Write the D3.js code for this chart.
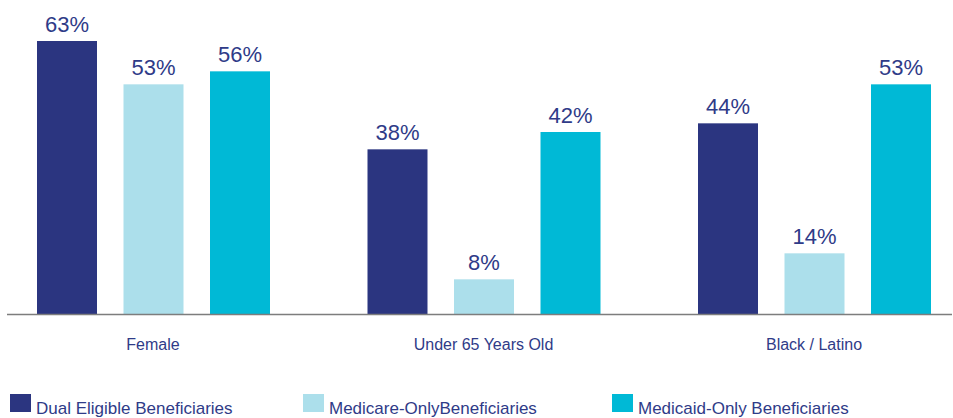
<!DOCTYPE html>
<html>
<head>
<meta charset="utf-8">
<script src="https://cdn.jsdelivr.net/npm/d3@7"></script>
<style>
  html, body { margin: 0; padding: 0; background: #fff; }
  svg { display: block; font-family: "Liberation Sans", Arial, Helvetica, sans-serif; }
</style>
</head>
<body>
<svg id="chart" width="953" height="418"></svg>
<script>
// ---- data ----
const categories = ["Female", "Under 65 Years Old", "Black / Latino"];
const seriesNames = ["Dual Eligible Beneficiaries", "Medicare-OnlyBeneficiaries", "Medicaid-Only Beneficiaries"];
const dualValues = [63, 38, 44];
const medicareValues = [53, 8, 14];
const medicaidValues = [56, 42, 53];
const seriesColors = ["#2b3580", "#acdfeb", "#00b9d6"];

// ---- layout ----
const W = 953, H = 418;
const baseY = 314;
const textColor = "#2f3b88";
const svg = d3.select("#chart");

const seriesValues = [dualValues, medicareValues, medicaidValues];
const data = categories.map((c, i) => ({
  cat: c,
  vals: seriesNames.map((s, j) => ({ series: s, idx: j, value: seriesValues[j][i] }))
}));

const x0 = d3.scaleBand().domain(categories).range([-12.25, 979.25]).paddingInner(0).paddingOuter(0);
const x1 = d3.scaleBand().domain(seriesNames).range([49.25, 282.25]).paddingInner(0.3064).paddingOuter(0);
const y = d3.scaleLinear().domain([0, 63]).range([baseY, 41]);
const color = d3.scaleOrdinal().domain(seriesNames).range(seriesColors);

const groups = svg.selectAll("g.grp").data(data).enter().append("g")
  .attr("class", "grp")
  .attr("transform", d => `translate(${x0(d.cat)},0)`);

groups.selectAll("rect").data(d => d.vals).enter().append("rect")
  .attr("x", d => x1(d.series))
  .attr("width", x1.bandwidth())
  .attr("y", d => y(d.value))
  .attr("height", d => baseY - y(d.value))
  .attr("fill", d => color(d.series));

groups.selectAll("text.val").data(d => d.vals).enter().append("text")
  .attr("class", "val")
  .attr("x", d => x1(d.series) + x1.bandwidth() / 2)
  .attr("y", d => y(d.value) - 9)
  .attr("text-anchor", "middle")
  .attr("font-size", 22)
  .attr("fill", textColor)
  .text(d => d.value + "%");

// axis baseline
const xAxis = d3.axisBottom(x0).tickSize(0).tickPadding(0);
const axG = svg.append("g").attr("transform", `translate(0,${baseY})`).call(xAxis);
axG.select(".domain").attr("d", "M7,0.5H952").attr("stroke", "#7d7d7d").attr("stroke-width", 1.5);
axG.selectAll(".tick text")
  .attr("y", 36)
  .attr("dy", 0)
  .attr("font-size", 16)
  .attr("font-family", "\"Liberation Sans\", Arial, Helvetica, sans-serif")
  .attr("fill", textColor);

// legend
const legendX = [10, 303, 612];
const leg = svg.selectAll("g.leg").data(seriesNames).enter().append("g")
  .attr("class", "leg")
  .attr("transform", (d, i) => `translate(${legendX[i]},394)`);
leg.append("rect").attr("width", 21).attr("height", 18).attr("fill", d => color(d));
leg.append("text").attr("x", 26).attr("y", 20)
  .attr("font-size", 17).attr("fill", textColor).text(d => d);
</script>
</body>
</html>
